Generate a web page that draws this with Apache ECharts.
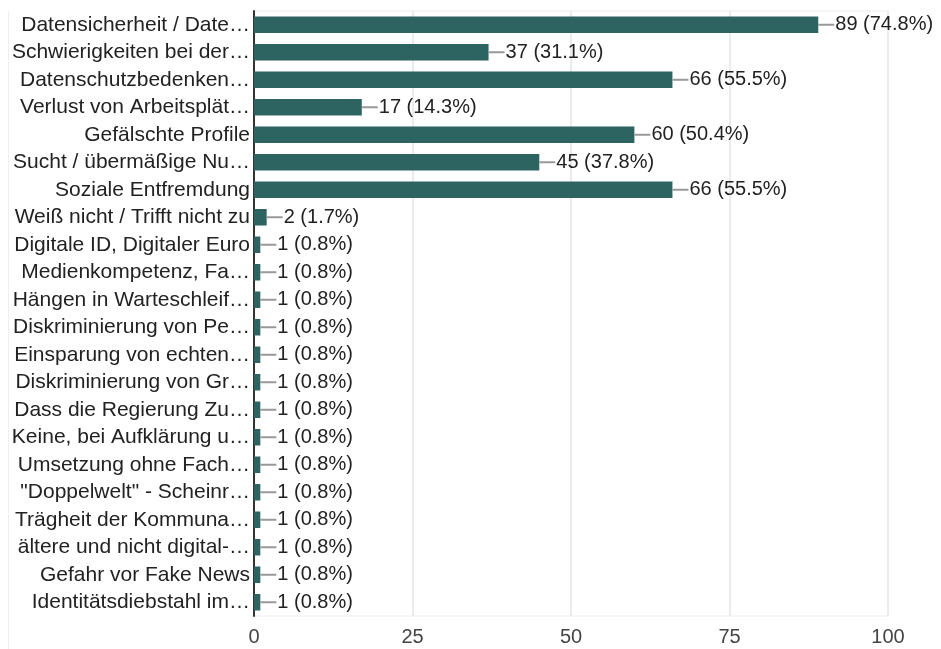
<!DOCTYPE html>
<html>
<head>
<meta charset="utf-8">
<style>
  html, body { margin: 0; padding: 0; background: #fff; }
  #chart { width: 941px; height: 649px; }
</style>
<script src="https://cdn.jsdelivr.net/npm/echarts@6/dist/echarts.min.js"></script>
</head>
<body>
<div id="chart"></div>
<script>
// Answer options (shortened as shown on the axis)
const categories = [
  'Datensicherheit / Date…',
  'Schwierigkeiten bei der…',
  'Datenschutzbedenken…',
  'Verlust von Arbeitsplät…',
  'Gefälschte Profile',
  'Sucht / übermäßige Nu…',
  'Soziale Entfremdung',
  'Weiß nicht / Trifft nicht zu',
  'Digitale ID, Digitaler Euro',
  'Medienkompetenz, Fa…',
  'Hängen in Warteschleif…',
  'Diskriminierung von Pe…',
  'Einsparung von echten…',
  'Diskriminierung von Gr…',
  'Dass die Regierung Zu…',
  'Keine, bei Aufklärung u…',
  'Umsetzung ohne Fach…',
  '"Doppelwelt" - Scheinr…',
  'Trägheit der Kommuna…',
  'ältere und nicht digital-…',
  'Gefahr vor Fake News',
  'Identitätsdiebstahl im…'
];

// Number of responses per option
const counts = [89, 37, 66, 17, 60, 45, 66, 2, 1, 1, 1, 1, 1, 1, 1, 1, 1, 1, 1, 1, 1, 1];

// Share of respondents per option, in percent
const shares = [74.8, 31.1, 55.5, 14.3, 50.4, 37.8, 55.5, 1.7, 0.8, 0.8, 0.8, 0.8, 0.8, 0.8, 0.8, 0.8, 0.8, 0.8, 0.8, 0.8, 0.8, 0.8];

// Value axis ticks
const xTicks = [0, 25, 50, 75, 100];

const FONT = '"Liberation Sans", Arial, Helvetica, sans-serif';

const chart = echarts.init(document.getElementById('chart'), null, { renderer: 'canvas' });

chart.setOption({
  animation: false,
  backgroundColor: '#ffffff',
  // thin frame line along the left edge of the card
  graphic: [{
    type: 'line',
    silent: true,
    shape: { x1: 8.5, y1: 11, x2: 8.5, y2: 649 },
    style: { stroke: '#efefef', lineWidth: 1 }
  }],
  grid: {
    left: 254,
    right: 53,
    top: 11,
    bottom: 33,
    show: true,
    borderColor: '#ececec',
    borderWidth: 1,
    containLabel: false
  },
  xAxis: {
    type: 'value',
    min: xTicks[0],
    max: xTicks[xTicks.length - 1],
    interval: xTicks[1] - xTicks[0],
    axisLine: { show: false },
    axisTick: { show: false },
    splitLine: { show: true, lineStyle: { color: '#ebebeb', width: 2 } },
    axisLabel: {
      color: '#444444',
      fontSize: 20,
      fontFamily: FONT,
      margin: 11
    }
  },
  yAxis: {
    type: 'category',
    inverse: true,
    data: categories,
    axisLine: { show: true, lineStyle: { color: '#333333', width: 2 } },
    axisTick: { show: false },
    splitLine: { show: false },
    axisLabel: {
      color: '#222222',
      fontSize: 21,
      fontFamily: FONT,
      margin: 4,
      interval: 0
    }
  },
  series: [{
    type: 'bar',
    data: counts,
    barWidth: '60%',
    itemStyle: { color: '#2d6361' },
    label: {
      show: true,
      position: 'right',
      distance: 0,
      fontFamily: FONT,
      fontSize: 20,
      color: '#222222',
      formatter: function (p) {
        return '{lead|}{txt|' + counts[p.dataIndex] + ' (' + shares[p.dataIndex].toFixed(1) + '%)}';
      },
      rich: {
        lead: { width: 16, height: 2, backgroundColor: '#999999' },
        txt: { fontFamily: FONT, fontSize: 20, color: '#222222', padding: [0, 0, 0, 1] }
      }
    }
  }]
});
</script>
</body>
</html>
